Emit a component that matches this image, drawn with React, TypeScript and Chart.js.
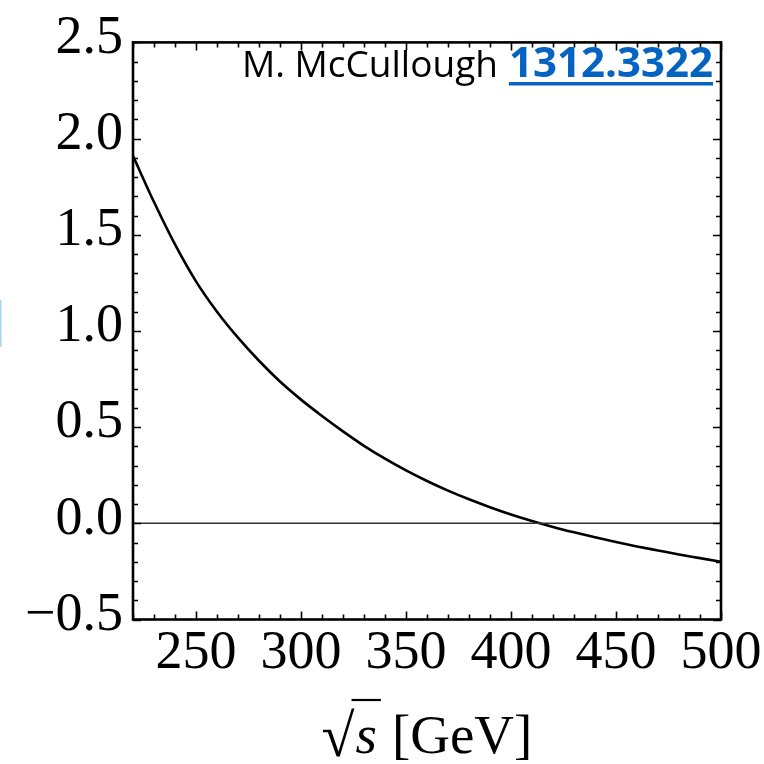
import React, { useEffect, useRef } from "react";
import { Chart, registerables } from "chart.js";

Chart.register(...registerables);

// sqrt(s) in GeV
const energies = [220, 230, 240, 250, 260, 270, 280, 290, 300, 310, 320, 330, 340, 350, 360, 370, 380, 390, 400, 410, 420, 430, 440, 450, 460, 470, 480, 490, 500];
// curve values
const curveValues = [1.91, 1.67, 1.45, 1.258, 1.1, 0.965, 0.845, 0.737, 0.643, 0.558, 0.478, 0.403, 0.336, 0.275, 0.22, 0.17, 0.125, 0.084, 0.046, 0.012, -0.019, -0.047, -0.073, -0.097, -0.12, -0.141, -0.162, -0.181, -0.2];
const zeroLineX = [220, 500];
const zeroLineY = [0, 0];

const xTickLabels = [250, 300, 350, 400, 450, 500];
const yTickLabels = [-0.5, 0.0, 0.5, 1.0, 1.5, 2.0, 2.5];
const xRange = [220, 500];
const yRange = [-0.5, 2.5];
const xMinorStep = 10;
const yMinorStep = 0.1;

const authorText = "M. McCullough";
const arxivText = "1312.3322";
const axisTitleUnit = "[GeV]";

const SERIF = "'Liberation Serif', 'Times New Roman', serif";

const framePlugin = {
  id: "frame",
  afterDatasetsDraw(chart: any) {
    const { ctx, chartArea, scales } = chart;
    const { left, right, top, bottom } = chartArea;
    const xs = scales.x;
    const ys = scales.y;
    ctx.save();
    ctx.strokeStyle = "#000";
    ctx.lineWidth = 1.6;
    const eps = 1e-6;
    for (let v = xRange[0]; v <= xRange[1] + eps; v += xMinorStep) {
      const px = Math.round(xs.getPixelForValue(v)) + 0.5;
      const major = xTickLabels.some((t) => Math.abs(t - v) < eps);
      const len = major ? 8 : 5;
      ctx.beginPath();
      ctx.moveTo(px, bottom);
      ctx.lineTo(px, bottom - len);
      ctx.moveTo(px, top);
      ctx.lineTo(px, top + len);
      ctx.stroke();
    }
    for (let i = 0; ; i++) {
      const v = yRange[0] + i * yMinorStep;
      if (v > yRange[1] + eps) break;
      const py = Math.round(ys.getPixelForValue(v)) + 0.5;
      const major = yTickLabels.some((t) => Math.abs(t - v) < eps);
      const len = major ? 8 : 5;
      ctx.beginPath();
      ctx.moveTo(left, py);
      ctx.lineTo(left + len, py);
      ctx.moveTo(right, py);
      ctx.lineTo(right - len, py);
      ctx.stroke();
    }
    ctx.lineWidth = 2.6;
    ctx.strokeRect(left, top, right - left, bottom - top);
    ctx.restore();
  },
  afterDraw(chart: any) {
    const { ctx, chartArea } = chart;
    ctx.save();
    // annotation text
    ctx.textBaseline = "alphabetic";
    ctx.font = "bold 42px 'Open Sans', 'Liberation Sans', sans-serif";
    const wBold = ctx.measureText(arxivText).width;
    const rightEdge = 713;
    const baseY = 77;
    const boldX = rightEdge - wBold;
    ctx.fillStyle = "#0563C1";
    ctx.textAlign = "left";
    ctx.fillText(arxivText, boldX, baseY);
    ctx.fillRect(boldX, 82, wBold, 3.5);
    ctx.font = "37px 'Open Sans', 'Liberation Sans', sans-serif";
    ctx.fillStyle = "#000";
    ctx.textAlign = "right";
    ctx.fillText(authorText, boldX - 11, baseY);

    // axis title: sqrt(s) [GeV]
    const cx = (chartArea.left + chartArea.right) / 2;
    const titleBase = 753;
    ctx.textAlign = "left";
    ctx.font = `55px ${SERIF}`;
    const wUnit = ctx.measureText(axisTitleUnit).width;
    ctx.font = `italic 55px ${SERIF}`;
    const wS = ctx.measureText("s").width;
    ctx.font = `60px ${SERIF}`;
    const wRad = ctx.measureText("\u221A").width;
    const gap = 16;
    const total = wRad + wS + gap + wUnit;
    const x0 = cx - total / 2;
    ctx.fillText("\u221A", x0, titleBase + 3);
    ctx.font = `italic 55px ${SERIF}`;
    ctx.fillText("s", x0 + wRad + 1, titleBase);
    ctx.lineWidth = 2.2;
    ctx.beginPath();
    ctx.moveTo(x0 + wRad - 3, 700);
    ctx.lineTo(x0 + wRad + wS + 5, 700);
    ctx.stroke();
    ctx.font = `55px ${SERIF}`;
    ctx.fillText(axisTitleUnit, x0 + wRad + wS + gap, titleBase);

    // slide edge artifact
    ctx.fillStyle = "#a9d3f2";
    ctx.fillRect(0, 300, 1.5, 47);
    ctx.restore();
  },
};

export default function App() {
  const ref = useRef<HTMLCanvasElement | null>(null);
  useEffect(() => {
    if (!ref.current) return;
    const chart = new Chart(ref.current, {
      type: "line",
      data: {
        datasets: [
          {
            data: zeroLineX.map((x, i) => ({ x, y: zeroLineY[i] })),
            borderColor: "#333",
            borderWidth: 1.6,
            pointRadius: 0,
          },
          {
            data: energies.map((x, i) => ({ x, y: curveValues[i] })),
            borderColor: "#000",
            borderWidth: 2.6,
            pointRadius: 0,
            cubicInterpolationMode: "monotone",
          },
        ],
      },
      options: {
        responsive: false,
        animation: false,
        events: [],
        layout: { padding: { left: 0, top: 29.5, right: 43, bottom: 0 } },
        plugins: { legend: { display: false }, tooltip: { enabled: false } },
        scales: {
          x: {
            type: "linear",
            min: xRange[0],
            max: xRange[1],
            grid: { display: false, drawTicks: false },
            border: { display: false },
            afterBuildTicks: (s: any) => {
              s.ticks = xTickLabels.map((v) => ({ value: v }));
            },
            afterFit: (s: any) => {
              s.height = 764 - 619.5;
            },
            ticks: {
              autoSkip: false,
              maxRotation: 0,
              padding: 2,
              color: "#000",
              font: { family: SERIF, size: 54 },
              callback: (v: any) => String(v),
            },
          },
          y: {
            type: "linear",
            min: yRange[0],
            max: yRange[1],
            grid: { display: false, drawTicks: false },
            border: { display: false },
            afterBuildTicks: (s: any) => {
              s.ticks = yTickLabels.map((v) => ({ value: v }));
            },
            afterFit: (s: any) => {
              s.width = 133;
            },
            ticks: {
              autoSkip: false,
              padding: 10,
              labelOffset: -4,
              color: "#000",
              font: { family: SERIF, size: 54 },
              callback: (v: any) => {
                const n = Number(v);
                return n < 0 ? "\u2212" + Math.abs(n).toFixed(1) : n.toFixed(1);
              },
            },
          },
        },
      },
      plugins: [framePlugin],
    } as any);
    return () => chart.destroy();
  }, []);
  return (
    <div style={{ position: "absolute", left: 0, top: 0, width: 764, height: 764, background: "#fff" }}>
      <canvas ref={ref} width={764} height={764} style={{ display: "block" }} />
    </div>
  );
}
